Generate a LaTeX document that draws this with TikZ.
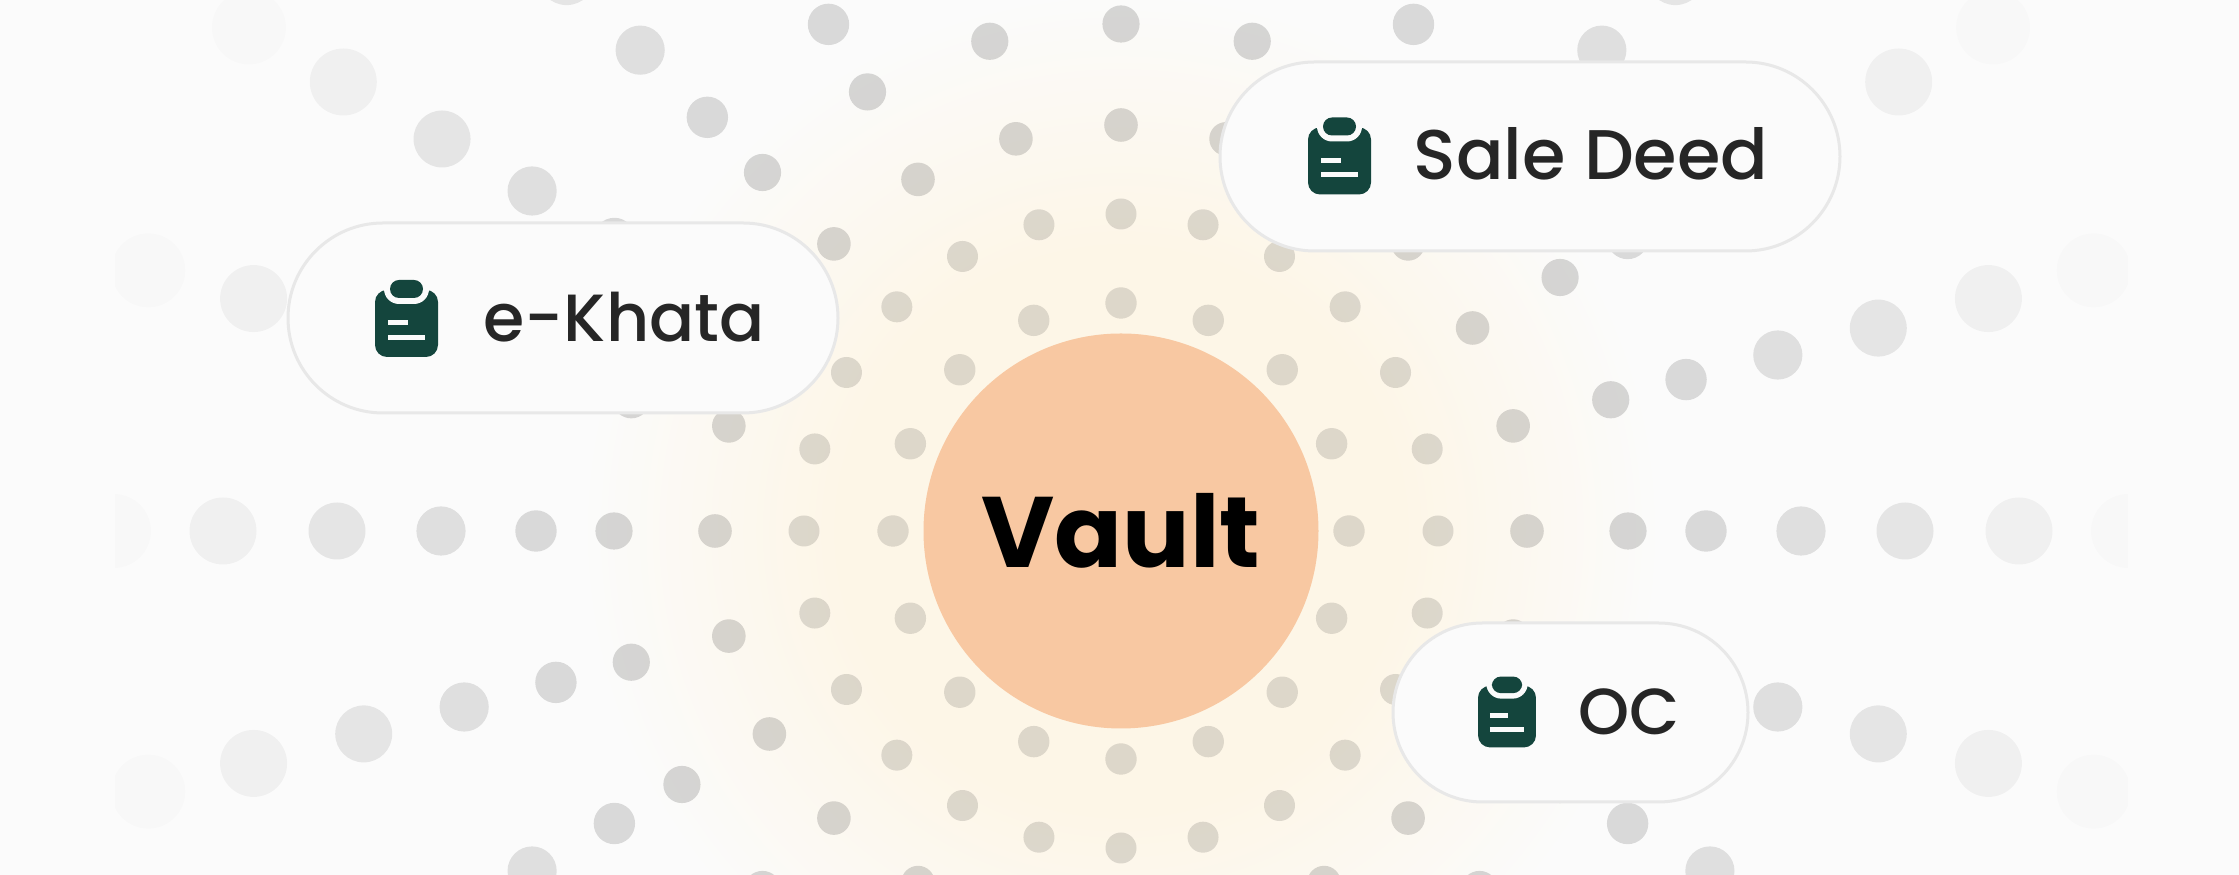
\documentclass[tikz,border=0pt]{standalone}
\usepackage{fontspec}
\setmainfont{Poppins}
\newfontfamily\pillfont[UprightFont={* Medium}]{Poppins}
\usetikzlibrary{shapes.misc}

\definecolor{pagecol}{HTML}{FBFBFB}
\definecolor{glowcol}{HTML}{FDF6E7}
\definecolor{vaultcol}{HTML}{F8C8A2}
\definecolor{pillline}{HTML}{E8E8E8}
\definecolor{iconcol}{HTML}{14453D}
\definecolor{pilltext}{HTML}{262626}

\pgfdeclareradialshading{vaultglow}{\pgfpointorigin}{color(0bp)=(glowcol);color(13bp)=(glowcol);color(25bp)=(pagecol);color(50bp)=(pagecol)}

\tikzset{
    pillbox/.style={rounded rectangle,draw=pillline,line width=0.03cm,fill=pagecol,inner sep=0pt},
    pilllabel/.style={anchor=base west,inner sep=0pt,text=pilltext,font=\pillfont\fontsize{#1}{#1}\selectfont},
    vaultbox/.style={circle,fill=vaultcol,minimum size=3.95cm,inner sep=0pt,font=\bfseries\fontsize{28.5pt}{28.5pt}\selectfont},
    clipicon/.pic={
        \fill[iconcol,rounded corners=0.12cm] (-0.315,-0.385) rectangle (0.315,0.285);
        \fill[pagecol,rounded corners=0.15cm] (-0.225,0.145) rectangle (0.225,0.47);
        \fill[iconcol,rounded corners=0.09cm] (-0.165,0.205) rectangle (0.165,0.385);
        \draw[pagecol,line width=0.05cm] (-0.185,-0.042) -- (0.015,-0.042);
        \draw[pagecol,line width=0.05cm] (-0.185,-0.19) -- (0.185,-0.19);
    }
}

\begin{document}
\begin{tikzpicture}
    \useasboundingbox (0,0) rectangle (22.39,8.75);
    \fill[pagecol] (0,0) rectangle (22.39,8.75);
    \coordinate (centre) at (11.21,3.44);

    \begin{scope}
        \clip (1.15,0) rectangle (21.28,8.75);
        \shade[shading=vaultglow] (centre) circle (5.4);
        % rings of dots, fading outwards
        \begin{scope}[shift={(centre)}]
            \foreach \ang in {0,22.5,...,337.5}
                \fill[black,opacity=0.125] (\ang:2.28) circle (0.157);
            \foreach \rad/\dotr/\dotop in {3.17/0.155/0.13,4.06/0.168/0.15,5.07/0.186/0.15,5.85/0.207/0.135,6.80/0.246/0.11,7.84/0.285/0.085,8.98/0.335/0.045,10.07/0.37/0.012}
                \foreach \ang in {0,15,...,345}
                    \fill[black,opacity=\dotop] (\ang:\rad) circle (\dotr);
        \end{scope}
    \end{scope}

    \node[vaultbox] (vault) at (centre) {Vault};

    \node[pillbox,minimum width=5.5cm,minimum height=1.9cm] (ekhata) at (5.63,5.57) {};
    \node[pillbox,minimum width=6.2cm,minimum height=1.89cm] (saledeed) at (15.30,7.185) {};
    \node[pillbox,minimum width=3.55cm,minimum height=1.79cm] (oc) at (15.705,1.625) {};

    \pic at (4.065,5.565) {clipicon};
    \pic at (13.395,7.19) {clipicon};
    \pic[scale=0.92] at (15.07,1.63) {clipicon};

    \node[pilllabel=19pt] (ekhatalabel) at (4.83,5.33) {e-Khata};
    \node[pilllabel=20pt] (saledeedlabel) at (14.13,6.95) {Sale Deed};
    \node[pilllabel=18.5pt] (oclabel) at (15.78,1.40) {OC};
\end{tikzpicture}
\end{document}
